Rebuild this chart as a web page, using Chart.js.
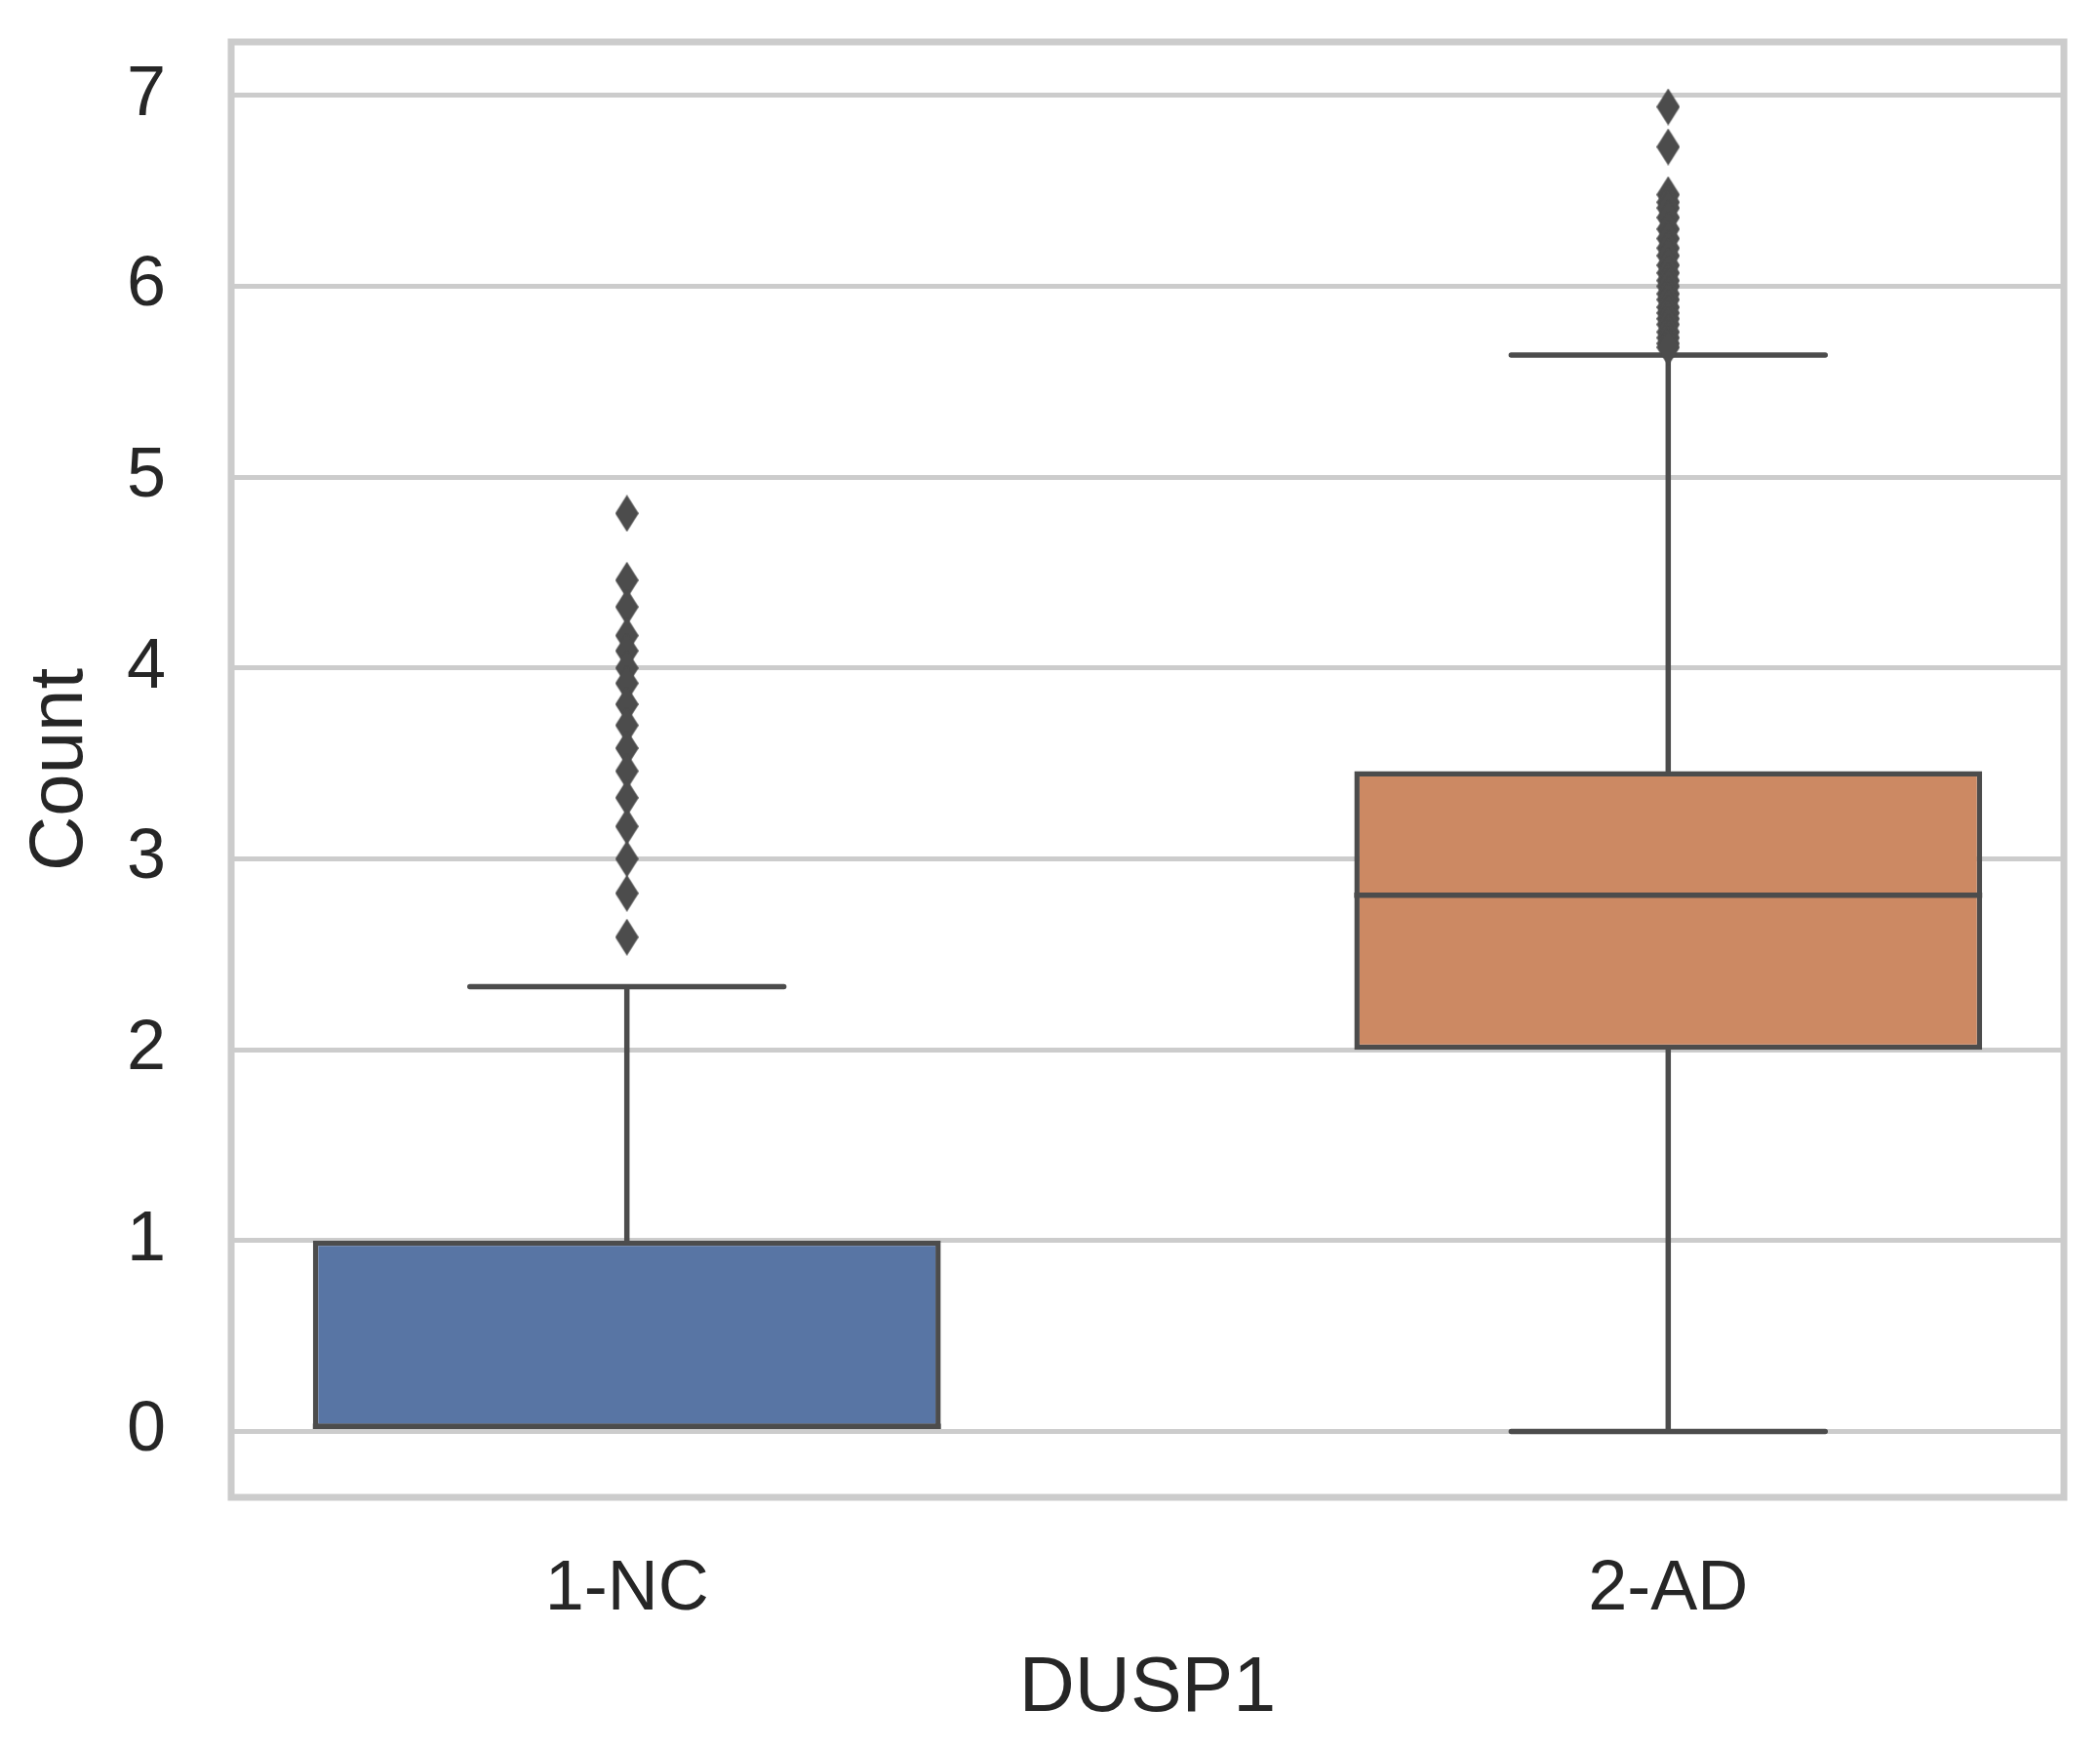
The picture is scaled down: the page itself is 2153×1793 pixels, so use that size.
<!DOCTYPE html>
<html>
<head>
<meta charset="utf-8">
<script src="https://cdn.jsdelivr.net/npm/chart.js@4"></script>
<style>
  html, body { margin: 0; padding: 0; background: #ffffff; }
  #wrap { width: 2153px; height: 1793px; }
</style>
</head>
<body>
<div id="wrap"><canvas id="c" width="2153" height="1793"></canvas></div>
<script>
// ---- data ----
const categories = ['1-NC', '2-AD'];
const q1 = [0, 2.0];
const q3 = [1.0, 3.46];
const medians = [0, 2.81];
const whiskerLow = [0, 0];
const whiskerHigh = [2.33, 5.64];
const outliersNC = [4.81, 4.46, 4.32, 4.17, 4.09, 4.00, 3.92, 3.81, 3.70, 3.58, 3.46, 3.32, 3.17, 3.00, 2.82, 2.59];
const outliersAD = [6.94, 6.73, 6.48, 6.44, 6.41, 6.36, 6.30, 6.25, 6.20, 6.16, 6.11, 6.07, 6.03, 6.00,
                    5.96, 5.93, 5.89, 5.86, 5.83, 5.80, 5.76, 5.73, 5.70, 5.68];
const yTicks = [0, 1, 2, 3, 4, 5, 6, 7];
const xTicks = [0, 1];
const xTitle = 'DUSP1';
const yTitle = 'Count';

// ---- styles ----
const boxColors = ['#5875a4', '#cc8963'];
const lineColor = '#4c4c4c';
const lineW = 5.5;
const gridColor = '#cccccc';
const textColor = '#262626';
const fontFamily = '"Liberation Sans", Arial, Helvetica, sans-serif';

// thin diamond marker (matplotlib 'd')
function makeDiamond(w, h, color) {
  const cv = document.createElement('canvas');
  cv.width = w; cv.height = h;
  const g = cv.getContext('2d');
  g.fillStyle = color;
  g.beginPath();
  g.moveTo(w / 2, 0);
  g.lineTo(w, h / 2);
  g.lineTo(w / 2, h);
  g.lineTo(0, h / 2);
  g.closePath();
  g.fill();
  return cv;
}
const diamond = makeDiamond(24, 38, lineColor);

const framePlugin = {
  id: 'frame',
  beforeDatasetsDraw(chart) {
    const {ctx, chartArea: a} = chart;
    ctx.save();
    ctx.strokeStyle = gridColor;
    ctx.lineWidth = 7;
    ctx.strokeRect(a.left, a.top, a.right - a.left, a.bottom - a.top);
    // whiskers and caps (under the boxes)
    const xs = chart.scales.x, ys = chart.scales.y;
    const bars = chart.getDatasetMeta(0).data;
    ctx.strokeStyle = lineColor;
    ctx.lineWidth = lineW;
    ctx.lineCap = 'round';
    categories.forEach((c, i) => {
      const px = xs.getPixelForValue(xTicks[i]);
      const half = bars[i].width / 4;
      const yLo = ys.getPixelForValue(whiskerLow[i]);
      const yQ1 = ys.getPixelForValue(q1[i]);
      const yQ3 = ys.getPixelForValue(q3[i]);
      const yHi = ys.getPixelForValue(whiskerHigh[i]);
      ctx.beginPath();
      ctx.moveTo(px, yQ3); ctx.lineTo(px, yHi);
      ctx.moveTo(px - half, yHi); ctx.lineTo(px + half, yHi);
      if (whiskerLow[i] < q1[i]) {
        ctx.moveTo(px, yQ1); ctx.lineTo(px, yLo);
        ctx.moveTo(px - half, yLo); ctx.lineTo(px + half, yLo);
      }
      ctx.stroke();
    });
    ctx.restore();
  },
  afterDatasetDraw(chart, args) {
    if (args.index !== 0) return;
    const {ctx} = chart;
    const ys = chart.scales.y;
    const bars = chart.getDatasetMeta(0).data;
    ctx.save();
    ctx.strokeStyle = lineColor;
    ctx.lineWidth = lineW;
    bars.forEach((b, i) => {
      const y = ys.getPixelForValue(medians[i]);
      const inset = lineW / 2;
      const yy = Math.min(Math.max(y, Math.min(b.y, b.base) + inset), Math.max(b.y, b.base) - inset);
      ctx.beginPath();
      ctx.moveTo(b.x - b.width / 2, yy);
      ctx.lineTo(b.x + b.width / 2, yy);
      ctx.stroke();
    });
    ctx.restore();
  }
};

new Chart(document.getElementById('c'), {
  type: 'bar',
  data: {
    datasets: [
      {
        type: 'bar',
        data: categories.map((c, i) => ({x: xTicks[i], y: [q1[i], q3[i]]})),
        backgroundColor: boxColors,
        borderColor: lineColor,
        borderWidth: lineW,
        borderSkipped: false,
        categoryPercentage: 1.0,
        barPercentage: 0.603,
        order: 2
      },
      {
        type: 'scatter',
        data: outliersNC.map(v => ({x: xTicks[0], y: v})),
        pointStyle: diamond,
        pointRadius: 12,
        order: 1
      },
      {
        type: 'scatter',
        data: outliersAD.map(v => ({x: xTicks[1], y: v})),
        pointStyle: diamond,
        pointRadius: 12,
        order: 1
      }
    ]
  },
  options: {
    responsive: false,
    devicePixelRatio: 1,
    animation: false,
    layout: { padding: { top: 43, right: 37, left: 0, bottom: 0 } },
    plugins: { legend: { display: false }, tooltip: { enabled: false } },
    scales: {
      x: {
        type: 'linear',
        offset: false,
        min: -0.38,
        max: 1.38,
        afterFit(s) { s.height = 258; s.paddingLeft = 0; s.paddingRight = 0; },
        afterBuildTicks(s) { s.ticks = xTicks.map(v => ({value: v})); },
        grid: { display: false, drawTicks: false, offset: false },
        border: { display: false },
        ticks: {
          padding: 52,
          color: textColor,
          font: { family: fontFamily, size: 72 },
          callback: (v) => categories[xTicks.indexOf(v)]
        },
        title: {
          display: true,
          text: xTitle,
          color: textColor,
          font: { family: fontFamily, size: 79 },
          padding: { top: 0, bottom: 13 }
        }
      },
      y: {
        type: 'linear',
        min: -0.345,
        max: 7.28,
        afterFit(s) { s.width = 237; s.paddingTop = 0; s.paddingBottom = 0; },
        afterBuildTicks(s) { s.ticks = yTicks.map(v => ({value: v})); },
        grid: { color: gridColor, lineWidth: 5, drawTicks: false },
        border: { display: false },
        ticks: {
          padding: 67,
          color: textColor,
          font: { family: fontFamily, size: 72 },
          callback: (v) => String(v)
        },
        title: {
          display: true,
          text: yTitle,
          color: textColor,
          font: { family: fontFamily, size: 78 },
          padding: { top: 16, bottom: 0 }
        }
      }
    }
  },
  plugins: [framePlugin]
});
</script>
</body>
</html>
